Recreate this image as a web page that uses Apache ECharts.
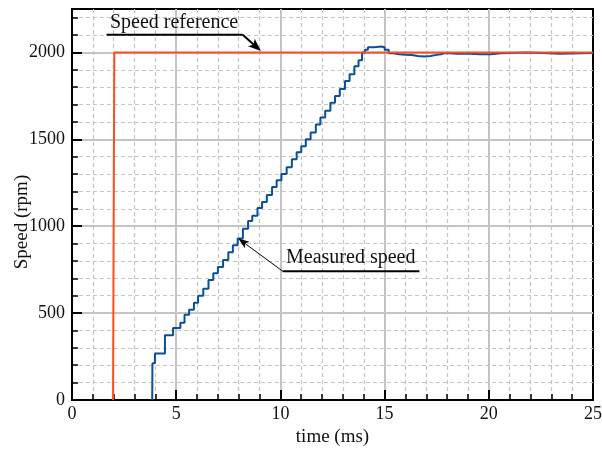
<!DOCTYPE html>
<html>
<head>
<meta charset="utf-8">
<script src="https://cdn.jsdelivr.net/npm/echarts@6/dist/echarts.min.js"></script>
<style>
html, body { margin: 0; padding: 0; background: #fff; }
#main { width: 602px; height: 456px; }
</style>
</head>
<body>
<div id="main"></div>
<script>
// speed reference (step command)
var refTime  = [1.97, 1.99, 2.03, 25];
var refSpeed = [0, 700, 2000, 2000];

// measured speed (ms, rpm)
var measTime = [
    3.85, 3.86, 3.98, 4.46, 4.85, 5.2, 5.4, 5.62, 5.85, 6.05,
    6.3, 6.55, 6.78, 7.0, 7.25, 7.5, 7.72, 7.95, 8.2, 8.45,
    8.65, 8.9, 9.12, 9.35, 9.6, 9.82, 10.05, 10.3, 10.55, 10.78,
    11.0, 11.22, 11.45, 11.7, 11.92, 12.15, 12.4, 12.62, 12.85, 13.1,
    13.32, 13.55, 13.75, 13.92, 14.05, 14.2, 14.5, 14.85, 15.0, 15.2,
    15.4, 15.7, 16.0, 16.3, 16.6, 16.9, 17.2, 17.5, 17.7, 17.9,
    18.5, 19.1, 19.6, 20.1, 20.6, 21.8, 22.9, 23.4, 25
];
var measSpeed = [
    0, 212, 268, 372, 415, 445, 490, 520, 560, 600,
    640, 690, 730, 765, 805, 850, 890, 930, 985, 1030,
    1060, 1105, 1140, 1180, 1225, 1265, 1300, 1340, 1385, 1425,
    1460, 1500, 1540, 1585, 1625, 1665, 1710, 1750, 1790, 1835,
    1875, 1920, 1955, 2000, 2015, 2030, 2034, 2030, 2015, 1995,
    1990, 1987, 1985, 1980, 1976, 1980, 1986, 1990, 1997, 1993,
    1993, 1989, 1990, 1995, 2000, 1996, 1992, 1997, 1997
];

function pairs(xs, ys) {
    return xs.map(function (x, i) { return [x, ys[i]]; });
}

var serif = '"Liberation Serif", "Times New Roman", serif';
var gridGray = '#c4c4c4';

var chart = echarts.init(document.getElementById('main'));

chart.setOption({
    animation: false,
    backgroundColor: '#fff',
    grid: {
        left: 72, right: 9, top: 9, bottom: 56,
        outerBoundsMode: 'none',
        containLabel: false,
        show: true,
        borderColor: '#000',
        borderWidth: 2,
        backgroundColor: 'transparent'
    },
    xAxis: {
        type: 'value',
        min: 0, max: 25, interval: 5,
        name: 'time (ms)',
        nameLocation: 'middle',
        nameGap: 27,
        nameTextStyle: { fontFamily: serif, fontSize: 19, color: '#111' },
        axisLine: { lineStyle: { color: '#000', width: 2 } },
        axisTick: { inside: true, length: 10, lineStyle: { color: '#000', width: 2 } },
        minorTick: { show: true, splitNumber: 5, length: 6, lineStyle: { color: '#000', width: 1.5 } },
        axisLabel: { fontFamily: serif, fontSize: 18, color: '#111', margin: 5, formatter: function (v) { return String(v); } },
        splitLine: { show: true, showMinLine: false, showMaxLine: false, lineStyle: { color: gridGray, width: 2 } },
        minorSplitLine: { show: true, lineStyle: { color: gridGray, width: 1.2, type: [4, 3] } }
    },
    yAxis: [{
        // fine grid every 100 rpm
        type: 'value',
        min: 0, max: 2250, interval: 100,
        position: 'left',
        axisLine: { show: false },
        axisTick: { inside: true, length: 6, lineStyle: { color: '#000', width: 1.5 } },
        axisLabel: { show: false },
        splitLine: { show: true, showMinLine: false, showMaxLine: false, lineStyle: { color: gridGray, width: 1.2, type: [4, 3] } }
    }, {
        type: 'value',
        min: 0, max: 2250, interval: 500,
        position: 'left',
        axisLine: { show: true, lineStyle: { color: '#000', width: 2 } },
        axisTick: { inside: true, length: 10, lineStyle: { color: '#000', width: 2 } },
        axisLabel: { fontFamily: serif, fontSize: 18, color: '#111', margin: 7, showMaxLabel: false, formatter: function (v) { return String(v); } },
        splitLine: { show: true, showMinLine: false, showMaxLine: false, lineStyle: { color: gridGray, width: 2 } }
    }],
    series: [{
        name: 'Measured speed',
        type: 'line',
        yAxisIndex: 0,
        step: 'end',
        symbol: 'none',
        data: pairs(measTime, measSpeed),
        lineStyle: { color: '#0b4f98', width: 2 },
        z: 3
    }, {
        name: 'Speed reference',
        type: 'line',
        yAxisIndex: 0,
        symbol: 'none',
        data: pairs(refTime, refSpeed),
        lineStyle: { color: '#ff4b22', width: 2 },
        z: 4
    }]
});

// annotation layout in data coordinates (ms, rpm)
var refLabel  = { text: 'Speed reference', at: [1.82, 2172], under: [[1.66, 2102], [8.19, 2102]], tip: [9.07, 2008] };
var measLabel = { text: 'Measured speed', at: [10.27, 816], under: [[16.67, 741], [10.11, 741]], tip: [7.98, 929] };

function px(p) {
    return chart.convertToPixel({ seriesIndex: 0 }, p);
}

function arrowHead(tip, from, len, half) {
    var dx = tip[0] - from[0], dy = tip[1] - from[1];
    var d = Math.sqrt(dx * dx + dy * dy);
    dx /= d; dy /= d;
    var bx = tip[0] - dx * len, by = tip[1] - dy * len;
    var nx = -dy * half, ny = dx * half;
    var mx = tip[0] - dx * len * 0.75, my = tip[1] - dy * len * 0.75;
    return [tip, [bx + nx, by + ny], [mx, my], [bx - nx, by - ny]];
}

function annotation(a, shaftWidth, headLen, headHalf) {
    var under = a.under.map(px);
    var tip = px(a.tip);
    var prev = under[1];
    var t = px(a.at);
    var dx = tip[0] - prev[0], dy = tip[1] - prev[1];
    var d = Math.sqrt(dx * dx + dy * dy);
    var stop = [tip[0] - dx / d * headLen * 0.7, tip[1] - dy / d * headLen * 0.7];
    return [{
        type: 'text', z: 10,
        x: t[0], y: t[1],
        style: { text: a.text, fontFamily: serif, fontSize: 20, fill: '#111', verticalAlign: 'middle', align: 'left' }
    }, {
        type: 'polyline', z: 10,
        shape: { points: under },
        style: { stroke: '#000', lineWidth: 2, fill: null }
    }, {
        type: 'polyline', z: 10,
        shape: { points: [prev, stop] },
        style: { stroke: '#000', lineWidth: shaftWidth, fill: null }
    }, {
        type: 'polygon', z: 11,
        shape: { points: arrowHead(tip, prev, headLen, headHalf) },
        style: { fill: '#000' }
    }];
}

// y axis title, placed beside the axis
var yTitle = {
    type: 'text', z: 10,
    x: 22, y: 222, rotation: Math.PI / 2,
    style: { text: 'Speed (rpm)', fontFamily: serif, fontSize: 19, fill: '#111', align: 'center', verticalAlign: 'middle' }
};

chart.setOption({
    graphic: [yTitle].concat(annotation(refLabel, 2, 13, 5), annotation(measLabel, 1, 11, 4))
});
</script>
</body>
</html>
